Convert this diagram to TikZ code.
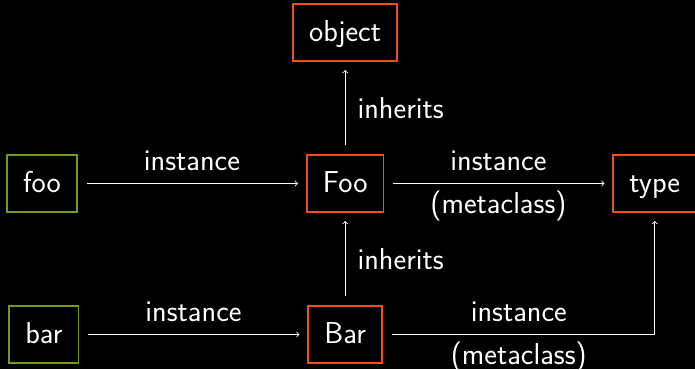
\documentclass[tikz,border=0pt]{standalone}
\usepackage{fontspec}
\usetikzlibrary{positioning, arrows}

\definecolor{objgreen}{RGB}{118,152,28}
\definecolor{clsorange}{RGB}{240,78,28}

\begin{document}
\begin{tikzpicture}[node distance=2.3cm and 5.7cm,
		every node/.style={text=white, font=\sffamily\fontsize{21.5}{25}\selectfont},
		box/.style={line width=1.4pt, minimum height=1.425cm, inner xsep=0.4cm, text height=14.8pt, text depth=1.7pt},
		obj/.style={box, draw=objgreen},
		cls/.style={box, draw=clsorange},
		rel/.style={->, white, line width=0.6pt, shorten <=0.22cm, shorten >=0.2cm}]
		\fill[black] (0,0) rectangle (17.375,-9.225);
		\useasboundingbox (0,0) rectangle (17.375,-9.225);
		
		\node[obj] (foo) at (1.05,-4.5875) {foo};
		\node[cls] (Foo) [right=of foo] {Foo};
		\node[cls] (type) [right=of Foo] {type};
		\node[cls] (object) [above=of Foo] {object};
		\node[cls] (Bar) [below=of Foo] {Bar};
		\node[obj] (bar) [left=of Bar] {bar};
		
		\path[rel]
		(foo) edge node [above=0.32cm, inner sep=0pt] {instance} (Foo)
		(Foo) edge node [above=0.32cm, inner sep=0pt] {instance}
		           node [below=0.18cm, inner sep=0pt] {(metaclass)} (type)
		(Foo) edge node [right=0.3cm, inner sep=0pt] {inherits} (object)
		(Bar) edge node [right=0.3cm, inner sep=0pt] {inherits} (Foo)
		(bar) edge node [above=0.32cm, inner sep=0pt] {instance} (Bar);
		\draw[rel] (Bar) -| node [pos=0.25, above=0.32cm, inner sep=0pt] {instance}
		                    node [pos=0.25, below=0.18cm, inner sep=0pt] {(metaclass)} (type);
	\end{tikzpicture}
\end{document}
